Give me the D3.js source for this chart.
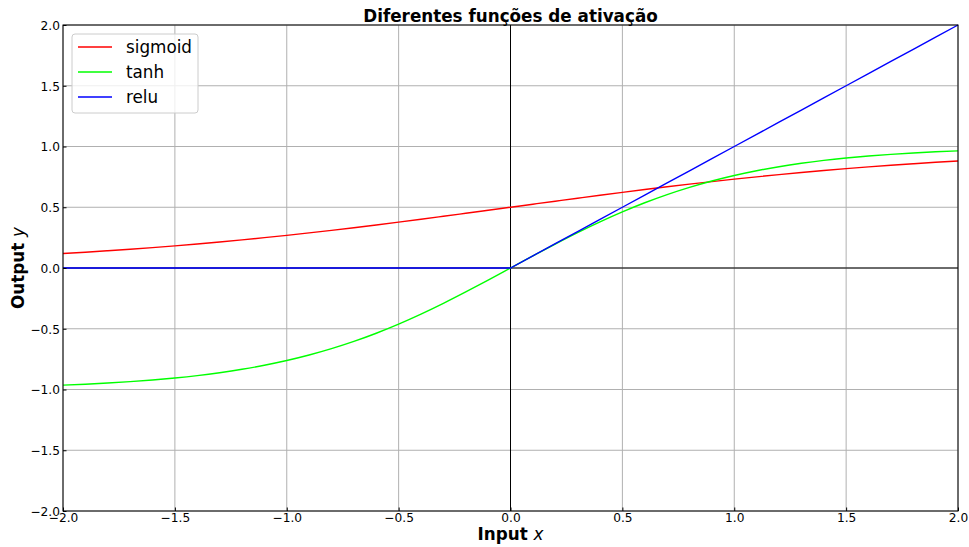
<!DOCTYPE html>
<html><head><meta charset="utf-8">
<script src="https://cdn.jsdelivr.net/npm/d3@7"></script>
<style>body{margin:0;background:#fff}svg{display:block;font-family:"DejaVu Sans",sans-serif}</style>
</head><body><svg id="c" width="969" height="547"></svg>
<script>
const xs = [-2.0,-1.9,-1.8,-1.7,-1.6,-1.5,-1.4,-1.3,-1.2,-1.1,-1.0,-0.9,-0.8,-0.7,-0.6,-0.5,-0.4,-0.3,-0.2,-0.1,0.0,0.1,0.2,0.3,0.4,0.5,0.6,0.7,0.8,0.9,1.0,1.1,1.2,1.3,1.4,1.5,1.6,1.7,1.8,1.9,2.0];
const sigmoidVals = [0.1192,0.1301,0.1419,0.1545,0.1680,0.1824,0.1978,0.2142,0.2315,0.2497,0.2689,0.2891,0.3100,0.3318,0.3543,0.3775,0.4013,0.4256,0.4502,0.4750,0.5000,0.5250,0.5498,0.5744,0.5987,0.6225,0.6457,0.6682,0.6900,0.7109,0.7311,0.7503,0.7685,0.7858,0.8022,0.8176,0.8320,0.8455,0.8581,0.8699,0.8808];
const tanhVals = [-0.9640,-0.9562,-0.9468,-0.9354,-0.9217,-0.9051,-0.8854,-0.8617,-0.8337,-0.8005,-0.7616,-0.7163,-0.6640,-0.6044,-0.5370,-0.4621,-0.3799,-0.2913,-0.1974,-0.0997,0.0000,0.0997,0.1974,0.2913,0.3799,0.4621,0.5370,0.6044,0.6640,0.7163,0.7616,0.8005,0.8337,0.8617,0.8854,0.9051,0.9217,0.9354,0.9468,0.9562,0.9640];
const reluVals = [0,0,0,0,0,0,0,0,0,0,0,0,0,0,0,0,0,0,0,0,0.0,0.1,0.2,0.3,0.4,0.5,0.6,0.7,0.8,0.9,1.0,1.1,1.2,1.3,1.4,1.5,1.6,1.7,1.8,1.9,2.0];
const seriesNames = ["sigmoid","tanh","relu"];
const seriesColors = ["#ff0000","#00ff00","#0000ff"];
const xTicks = [-2.0,-1.5,-1.0,-0.5,0.0,0.5,1.0,1.5,2.0];
const yTicks = [-2.0,-1.5,-1.0,-0.5,0.0,0.5,1.0,1.5,2.0];
const titleText = "Diferentes funções de ativação";

const svg = d3.select("#c");
const L=63,R=958,T=25,B=511;
const x = d3.scaleLinear().domain([-2,2]).range([L,R]);
const y = d3.scaleLinear().domain([-2,2]).range([B,T]);
const fmt = v => (v<0?"\u2212":"")+Math.abs(v).toFixed(1);

// grid
const g = svg.append("g");
g.selectAll(".gx").data(xTicks).enter().append("line")
 .attr("x1",d=>x(d)).attr("x2",d=>x(d)).attr("y1",T).attr("y2",B)
 .attr("stroke","#b0b0b0").attr("stroke-width",1);
g.selectAll(".gy").data(yTicks).enter().append("line")
 .attr("y1",d=>y(d)).attr("y2",d=>y(d)).attr("x1",L).attr("x2",R)
 .attr("stroke","#b0b0b0").attr("stroke-width",1);

// zero lines
svg.append("line").attr("x1",L).attr("x2",R).attr("y1",y(0)).attr("y2",y(0)).attr("stroke","#000").attr("stroke-width",1);
svg.append("line").attr("x1",x(0)).attr("x2",x(0)).attr("y1",T).attr("y2",B).attr("stroke","#000").attr("stroke-width",1);

// curves
const allVals=[sigmoidVals,tanhVals,reluVals];
allVals.forEach((vals,i)=>{
  const line=d3.line().x((d,j)=>x(xs[j])).y(d=>y(d)).curve(i<2?d3.curveMonotoneX:d3.curveLinear);
  svg.append("path").datum(vals).attr("d",line).attr("fill","none")
   .attr("stroke",seriesColors[i]).attr("stroke-width",1.4);
});

// axes (ticks inward)
const ax = svg.append("g").attr("transform",`translate(0,${B})`)
 .call(d3.axisBottom(x).tickValues(xTicks).tickFormat(fmt).tickSize(-3.5).tickSizeOuter(0));
const ay = svg.append("g").attr("transform",`translate(${L},0)`)
 .call(d3.axisLeft(y).tickValues(yTicks).tickFormat(fmt).tickSize(-3.5).tickSizeOuter(0));
[ax,ay].forEach(a=>{a.select(".domain").remove();
 a.selectAll("text").attr("font-family","DejaVu Sans").attr("font-size",12.2).attr("fill","#000");
 a.selectAll(".tick line").attr("stroke","#000");});
ax.selectAll("text").attr("dy","0.71em").attr("y",2);
ay.selectAll("text").attr("x",-3).attr("dy","0.35em");

// frame
svg.append("rect").attr("x",L).attr("y",T).attr("width",R-L).attr("height",B-T)
 .attr("fill","none").attr("stroke","#000").attr("stroke-width",1);

// title & labels
svg.append("text").attr("x",(L+R)/2).attr("y",22).attr("text-anchor","middle")
 .attr("font-weight","bold").attr("font-size",16.8).text(titleText);
const xl = svg.append("text").attr("x",(L+R)/2).attr("y",540).attr("text-anchor","middle")
 .attr("font-weight","bold").attr("font-size",16.8);
xl.append("tspan").text("Input ");
xl.append("tspan").attr("font-style","italic").attr("font-weight","normal").text("x");
const yl = svg.append("text").attr("transform",`translate(24,${(T+B)/2}) rotate(-90)`).attr("text-anchor","middle")
 .attr("font-weight","bold").attr("font-size",16.8);
yl.append("tspan").text("Output ");
yl.append("tspan").attr("font-style","italic").attr("font-weight","normal").text("y");

// legend
const lg = svg.append("g").attr("transform","translate(72,34)");
lg.append("rect").attr("width",126).attr("height",79).attr("rx",3)
 .attr("fill","#fff").attr("fill-opacity",0.8).attr("stroke","#cccccc");
seriesNames.forEach((n,i)=>{
  const yy=13+i*25;
  lg.append("line").attr("x1",6).attr("x2",40).attr("y1",yy).attr("y2",yy).attr("stroke",seriesColors[i]).attr("stroke-width",1.4);
  lg.append("text").attr("x",54).attr("y",yy).attr("dy","0.35em").attr("font-size",16.8).text(n);
});
</script></body></html>
